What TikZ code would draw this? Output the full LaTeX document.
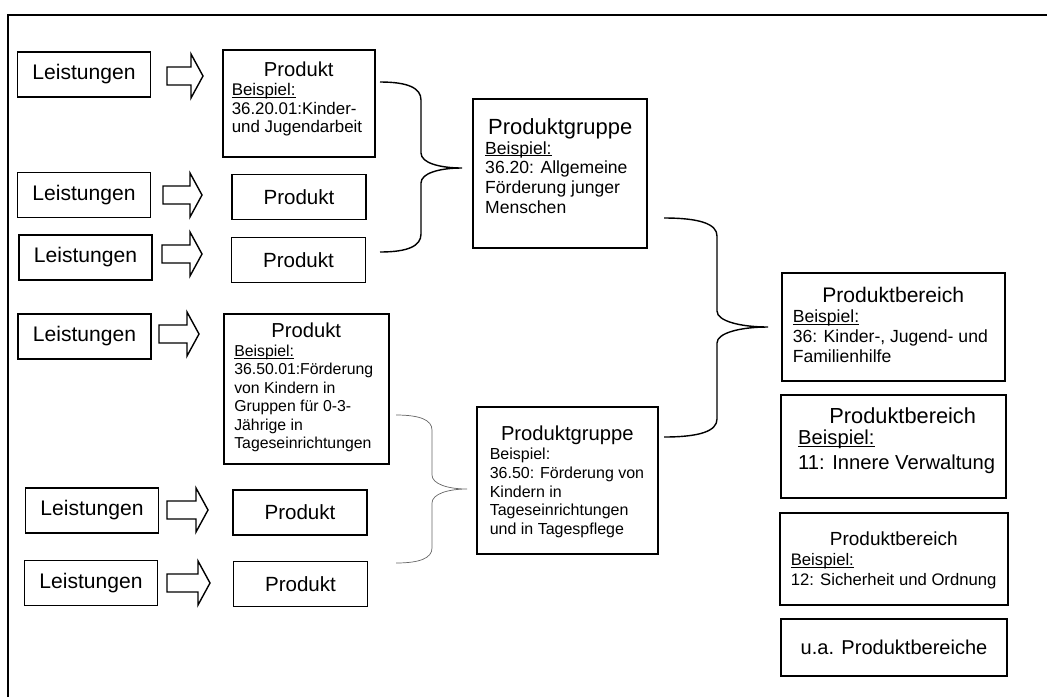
\documentclass[tikz,border=0pt]{standalone}
\usepackage{fontspec}
\setmainfont{Liberation Sans}
\newcommand{\unterstrichen}[1]{\leavevmode\setbox0=\hbox{#1}\rlap{\rule[-1.3pt]{\wd0}{0.5pt}}\box0}

\begin{document}
\begin{tikzpicture}[x=0.02cm, y=-0.02cm,
  rahmen/.style={line width=1.1pt},
  leistung/.style={draw, line width=0.9pt, inner sep=0pt, minimum width=2.66cm, minimum height=0.9cm, font=\fontsize{12}{14}\selectfont},
  produkt/.style={draw, line width=0.9pt, inner sep=0pt, minimum width=2.68cm, minimum height=0.9cm, font=\fontsize{11.7}{14}\selectfont},
  kasten/.style={draw, line width=0.9pt, anchor=north west, inner ysep=0pt},
  dick/.style={line width=1.4pt},
  pfeil/.style={line width=0.8pt, line join=miter},
  klammer/.style={line width=0.8pt},
  klammerduenn/.style={line width=0.4pt, black!60}]
  \useasboundingbox (0,0) rectangle (1047,697);
  % Rahmen (nur oben und links sichtbar)
  \draw[rahmen] (8,697) -- (8,15) -- (1047,15);
  % Leistungen
  \node[leistung] (l1) at (84,74.5) {Leistungen};
  \node[leistung] (l2) at (84,195) {Leistungen};
  \node[leistung] (l3) at (85.5,257.5) {Leistungen};
  \node[leistung] (l4) at (84.5,336.5) {Leistungen};
  \node[leistung] (l5) at (92,510.5) {Leistungen};
  \node[leistung] (l6) at (91,583) {Leistungen};
  % Blockpfeile (Start x, Mitte y, Laenge)
  \foreach \x/\y/\l in {167/76/36, 163/195/39, 162/254/40, 159/334/40, 167/510/41, 167/583/43}
    \draw[pfeil, shift={(\x,\y)}] (0,-9) -- ({\l-12},-9) -- ({\l-12},-22) -- (\l,0)
      -- ({\l-12},22) -- ({\l-12},9) -- (0,9) -- cycle;
  % Produkte
  \node[kasten, inner xsep=0.18cm] (p1) at (222,49) {\parbox[c][2.14cm][t]{2.68cm}{%
    \centering\fontsize{11.5}{13.8}\selectfont\rule{0pt}{0.54cm}Produkt\par
    \raggedright\fontsize{9.6}{10.6}\selectfont\unterstrichen{Beispiel:}\\
    36.20.01:Kinder-\\\mbox{und Jugendarbeit}}};
  \node[produkt] (p2) at (299,197) {Produkt};
  \node[produkt] (p3) at (298.5,260) {Produkt};
  \node[kasten, inner xsep=0.21cm] (p4) at (223,313) {\parbox[c][3.0cm][t]{2.88cm}{%
    \centering\fontsize{11.5}{13.8}\selectfont\rule{0pt}{0.48cm}Produkt\par
    \raggedright\fontsize{9}{10.5}\selectfont\unterstrichen{Beispiel:}\\
    36.50.01:Förderung\\von Kindern in\\Gruppen für 0-3-\\Jährige in\\Tageseinrichtungen}};
  \node[produkt] (p5) at (300,512.5) {Produkt};
  \node[produkt] (p6) at (300.5,584) {Produkt};
  % Produktgruppen
  \node[kasten, dick, inner xsep=0.24cm] (pg1) at (472,98) {\parbox[c][2.98cm][t]{3.0cm}{%
    \centering\fontsize{12.5}{15}\selectfont\rule{0pt}{0.7cm}Produktgruppe\par
    \raggedright\fontsize{10}{11.3}\selectfont\unterstrichen{Beispiel:}\\
    36.20: Allgemeine\\Förderung junger\\Menschen}};
  \node[kasten, inner xsep=0.26cm] (pg2) at (476,406) {\parbox[c][2.94cm][t]{3.1cm}{%
    \centering\fontsize{11.5}{13.8}\selectfont\rule{0pt}{0.68cm}Produktgruppe\par
    \raggedright\fontsize{9.1}{10.7}\selectfont Beispiel:\\
    \mbox{36.50: Förderung von}\\Kindern in\\Tageseinrichtungen\\und in Tagespflege}};
  % Produktbereiche
  \node[kasten, inner xsep=0.22cm] (pb1) at (781,272) {\parbox[c][2.16cm][t]{4.02cm}{%
    \centering\fontsize{12}{14.4}\selectfont\rule{0pt}{0.6cm}Produktbereich\par
    \raggedright\fontsize{10}{11.4}\selectfont\unterstrichen{Beispiel:}\\
    36: Kinder-, Jugend- und\\Familienhilfe}};
  \node[kasten, dick, inner xsep=0.34cm] (pb2) at (780,394) {\parbox[c][2.06cm][t]{3.82cm}{%
    \centering\fontsize{12.4}{14.8}\selectfont\rule{0pt}{0.56cm}\hspace*{0.36cm}Produktbereich\par
    \raggedright\fontsize{11.5}{12}\selectfont\unterstrichen{Beispiel:}\\[2.4pt]
    \mbox{11: Innere Verwaltung}}};
  \node[kasten, inner xsep=0.22cm] (pb3) at (779,512) {\parbox[c][1.84cm][t]{4.12cm}{%
    \centering\fontsize{10.8}{13}\selectfont\rule{0pt}{0.66cm}Produktbereich\par
    \raggedright\fontsize{9.5}{11.4}\selectfont\unterstrichen{Beispiel:}\\
    \mbox{12: Sicherheit und Ordnung}}};
  \node[draw, line width=0.9pt, inner sep=0pt, minimum width=4.52cm, minimum height=1.14cm,
    font=\fontsize{11.4}{13.7}\selectfont] (pb4) at (894,647.5) {u.a. Produktbereiche};
  % Klammern
  \draw[klammer] (380,82) .. controls (408,82) and (421,88) .. (421,100) -- (421,153)
    .. controls (421,163) and (440,168) .. (462,168)
    .. controls (440,168) and (421,173) .. (421,183) -- (421,234)
    .. controls (421,246) and (408,252) .. (380,252);
  \draw[klammer] (664,218) .. controls (700,218) and (717,224) .. (717,236) -- (717,311)
    .. controls (717,321) and (740,327) .. (768,327)
    .. controls (740,327) and (717,333) .. (717,343) -- (717,419)
    .. controls (717,431) and (700,437) .. (664,437);
  \draw[klammerduenn] (396,415) .. controls (420,415) and (432,420) .. (432,430) -- (432,475)
    .. controls (432,484) and (448,489) .. (467,489)
    .. controls (448,489) and (432,494) .. (432,503) -- (432,548)
    .. controls (432,558) and (420,563) .. (396,563);
\end{tikzpicture}
\end{document}
